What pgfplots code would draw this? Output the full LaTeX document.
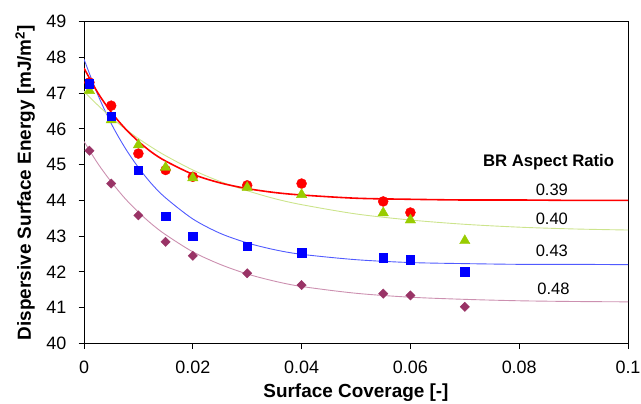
\documentclass[border=0pt]{standalone}
\usepackage{fontspec}
\setmainfont{Liberation Sans}
\usepackage{pgfplots}
\pgfplotsset{compat=1.18}

\definecolor{rRed}{RGB}{255,0,0}
\definecolor{gMark}{RGB}{153,204,0}
\definecolor{gLine}{RGB}{204,228,140}
\definecolor{bMark}{RGB}{0,0,255}
\definecolor{bLine}{RGB}{80,90,255}
\definecolor{pMark}{RGB}{153,51,102}
\definecolor{pLine}{RGB}{204,144,176}

\begin{document}
\begin{tikzpicture}
\begin{axis}[
  scale only axis,
  width=544bp, height=321.6bp,
  xmin=0, xmax=0.1, ymin=40, ymax=49,
  xtick={0,0.02,0.04,0.06,0.08,0.1},
  xticklabels={0,0.02,0.04,0.06,0.08,0.1},
  ytick={40,41,...,49},
  scaled x ticks=false,
  xtick pos=bottom, ytick pos=left,
  tick align=outside,
  major tick length=5.5bp,
  tick style={black, line width=0.8pt},
  axis line style={black, line width=0.8pt},
  ticklabel style={font=\fontsize{18}{20}\selectfont, inner sep=0pt},
  xticklabel style={anchor=center, yshift=-19bp},
  yticklabel style={anchor=east, xshift=-12bp},
  /pgf/number format/assume math mode=true,
  xlabel={Surface Coverage [-]},
  ylabel={Dispersive Surface Energy [mJ/m\textsuperscript{2}]},
  label style={font=\bfseries\fontsize{19}{21}\selectfont},
  xlabel style={at={(axis description cs:0.5,-0.1545)}, anchor=center},
  ylabel style={at={(axis description cs:-0.108,0.5)}, anchor=center},
  clip=true,
]
% fitted curves
\addplot[pLine, line width=0.9pt, smooth] coordinates {
  (0,45.65)(0.0025,45.04)(0.005,44.52)(0.0075,44.06)(0.01,43.67)(0.0125,43.33)
  (0.015,43.04)(0.02,42.56)(0.025,42.21)(0.03,41.94)(0.035,41.74)(0.04,41.59)
  (0.05,41.40)(0.06,41.29)(0.07,41.23)(0.08,41.19)(0.09,41.17)(0.1,41.16)};
\addplot[bLine, line width=0.9pt, smooth] coordinates {
  (0,47.95)(0.0025,46.97)(0.005,46.15)(0.0075,45.48)(0.01,44.92)(0.0125,44.45)
  (0.015,44.07)(0.02,43.48)(0.025,43.08)(0.03,42.81)(0.035,42.62)(0.04,42.49)
  (0.05,42.34)(0.06,42.26)(0.07,42.23)(0.08,42.21)(0.09,42.21)(0.1,42.20)};
\addplot[gLine, line width=0.9pt, smooth] coordinates {
  (0,47.05)(0.0025,46.67)(0.005,46.32)(0.0075,46.01)(0.01,45.73)(0.0125,45.48)
  (0.015,45.25)(0.02,44.85)(0.025,44.53)(0.03,44.27)(0.035,44.05)(0.04,43.88)
  (0.05,43.62)(0.06,43.45)(0.07,43.33)(0.08,43.25)(0.09,43.20)(0.1,43.17)};
\addplot[rRed, line width=1.6pt, smooth] coordinates {
  (0,47.70)(0.0025,47.02)(0.005,46.47)(0.0075,46.02)(0.01,45.65)(0.0125,45.34)
  (0.015,45.10)(0.02,44.73)(0.025,44.49)(0.03,44.33)(0.035,44.22)(0.04,44.15)
  (0.05,44.06)(0.06,44.03)(0.07,44.01)(0.08,44.01)(0.09,44.00)(0.1,44.00)};
% measured points
\addplot[only marks, mark=*, mark size=5bp, rRed] coordinates {
  (0.001,47.3)(0.005,46.65)(0.01,45.31)(0.015,44.85)(0.02,44.66)(0.03,44.42)
  (0.04,44.47)(0.055,43.97)(0.06,43.66)};
\addplot[only marks, mark=triangle*, mark size=6bp, gMark] coordinates {
  (0.001,47.07)(0.005,46.25)(0.01,45.55)(0.015,44.92)(0.02,44.63)(0.03,44.36)
  (0.04,44.16)(0.055,43.65)(0.06,43.45)(0.07,42.87)};
\addplot[only marks, mark=square*, mark size=4.2bp, bMark] coordinates {
  (0.001,47.27)(0.005,46.36)(0.01,44.85)(0.015,43.56)(0.02,43.0)(0.03,42.72)
  (0.04,42.53)(0.055,42.40)(0.06,42.34)(0.07,42.0)};
\addplot[only marks, mark=square*, mark size=3.3bp, mark options={rotate=45}, pMark] coordinates {
  (0.001,45.39)(0.005,44.47)(0.01,43.58)(0.015,42.84)(0.02,42.45)(0.03,41.96)
  (0.04,41.63)(0.055,41.39)(0.06,41.34)(0.07,41.02)};
% annotations
\node[font=\bfseries\fontsize{16.8}{19}\selectfont] at (axis cs:0.0854,45.08) {BR Aspect Ratio};
\node[font=\fontsize{16.6}{19}\selectfont] at (axis cs:0.0860,44.29) {0.39};
\node[font=\fontsize{16.6}{19}\selectfont] at (axis cs:0.0860,43.47) {0.40};
\node[font=\fontsize{16.6}{19}\selectfont] at (axis cs:0.0860,42.58) {0.43};
\node[font=\fontsize{16.6}{19}\selectfont] at (axis cs:0.0863,41.53) {0.48};
\end{axis}
\pgfresetboundingbox
\path[use as bounding box] ([xshift=-84bp,yshift=-60.7bp]current axis.south west)
  rectangle ([xshift=13bp,yshift=21.7bp]current axis.north east);
\end{tikzpicture}
\end{document}
